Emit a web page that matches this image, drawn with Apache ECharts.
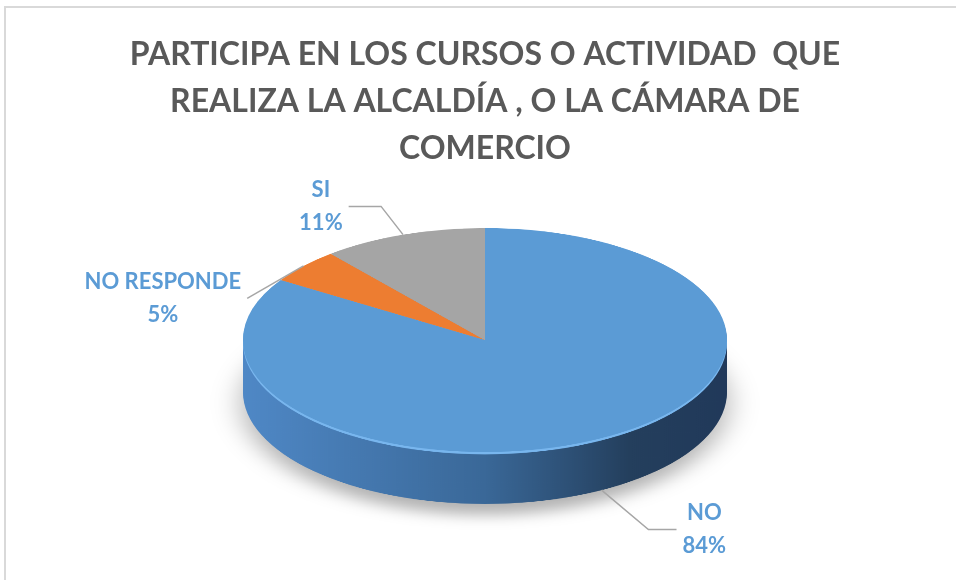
<!DOCTYPE html>
<html><head><meta charset="utf-8">
<script src="https://cdn.jsdelivr.net/npm/echarts@6/dist/echarts.min.js"></script>
<style>
html,body{margin:0;padding:0;background:#fff;overflow:hidden;width:956px;height:580px;}
#pie{position:absolute;left:0;top:0;width:956px;height:1200px;transform-origin:0 0;}
#main{position:absolute;left:0;top:0;width:956px;height:580px;}
</style></head><body>
<div id="pie"></div><div id="main"></div>
<script>
// ---- data ----
const titleLines = ['PARTICIPA EN LOS CURSOS O ACTIVIDAD  QUE', 'REALIZA LA ALCALDÍA , O LA CÁMARA DE', 'COMERCIO'];
const categories = ['NO', 'NO RESPONDE', 'SI'];
const values = [84, 5, 11];

// ---- styles / layout ----
const sliceColors = ['#5b9bd5', '#ed7d31', '#a5a5a5'];
const leaderLens = [[45, 13], [4, 4], [30, 15]];
const CX = 485, CY = 340, RX = 242, RY = 112, T = 52;
const K = RY / RX;
const CYC = CY / K, TC = T / K;

const pieEl = document.getElementById('pie');
pieEl.style.transform = 'scaleY(' + K + ')';

function pieData(colorFn) {
  return categories.map((c, i) => ({ name: c, value: values[i], itemStyle: { color: colorFn(i) } }));
}
const base = {
  type: 'pie', radius: RX, startAngle: 90, clockwise: true, silent: true, animation: false,
  label: { show: false }, labelLine: { show: false }, avoidLabelOverlap: false,
  emphasis: { disabled: true }, padAngle: 0, minAngle: 0
};
const sideGrad = {
  type: 'linear', x: CX - RX, y: 0, x2: CX + RX, y2: 0, global: true,
  colorStops: [
    { offset: 0, color: '#4f88c6' },
    { offset: 0.5, color: '#3a6898' },
    { offset: 0.8, color: '#243f5d' },
    { offset: 1, color: '#21395a' }
  ]
};
const series = [];
let first = true;
for (let o = TC; o > 3; o -= 6) {
  const st = { borderWidth: 0 };
  if (first) { st.shadowBlur = 30; st.shadowColor = 'rgba(0,0,0,0.3)'; st.shadowOffsetY = 24; }
  series.push(Object.assign({}, base, { center: [CX, CYC + o], itemStyle: st, data: pieData(() => sideGrad) }));
  first = false;
}
series.push(Object.assign({}, base, { center: [CX, CYC + 5], itemStyle: { borderWidth: 0 }, data: pieData(() => '#78b6ee') }));
series.push(Object.assign({}, base, { center: [CX, CYC], itemStyle: { borderWidth: 0 }, data: pieData(i => sliceColors[i]) }));

const pieChart = echarts.init(pieEl, null, { renderer: 'canvas' });
pieChart.setOption({ animation: false, series: series });

// ---- overlay: title, border, labels ----
const S = RX / RY;
const main = echarts.init(document.getElementById('main'), null, { renderer: 'canvas' });
main.setOption({
  animation: false,
  title: {
    text: titleLines.join('\n'), left: CX - 5, top: 26, textAlign: 'center',
    textStyle: { fontFamily: 'Lato', fontWeight: 'bold', fontSize: 32, color: '#595959', lineHeight: 47 }
  },
  graphic: [{
    type: 'rect', silent: true, z: -1,
    shape: { x: 5, y: 7, width: 1000, height: 700 },
    style: { fill: 'none', stroke: '#d9d9d9', lineWidth: 2 }
  }],
  series: [{
    type: 'pie', center: [CX, CY], radius: RY, startAngle: 90, clockwise: true,
    silent: true, animation: false,
    data: categories.map((c, i) => ({
      name: c, value: values[i],
      labelLine: { length: leaderLens[i][0], length2: leaderLens[i][1] }
    })),
    itemStyle: { color: 'rgba(0,0,0,0)', borderWidth: 0 },
    label: {
      show: true, position: 'outside', formatter: '{b}\n{d}%',
      color: '#5b9bd5', fontFamily: 'Lato', fontWeight: 'bold', fontSize: 22, lineHeight: 33,
      padding: [12, 0, 12, 0]
    },
    labelLine: { show: true, length: 30, length2: 6, smooth: false, lineStyle: { color: '#a6a6a6', width: 1.5 } },
    labelLayout: function (params) {
      const pts = params.labelLinePoints;
      if (!pts) return {};
      const off = pts[0][1] > CY ? T : 0;
      const q = pts.map(p => [CX + (p[0] - CX) * S, p[1] + off]);
      const sign = pts[0][0] >= CX ? 1 : -1;
      const w = params.labelRect.width;
      return {
        x: q[2][0] + sign * (6 + w / 2), y: q[2][1],
        align: 'center', verticalAlign: 'middle',
        labelLinePoints: q
      };
    }
  }]
});
</script>
</body></html>
